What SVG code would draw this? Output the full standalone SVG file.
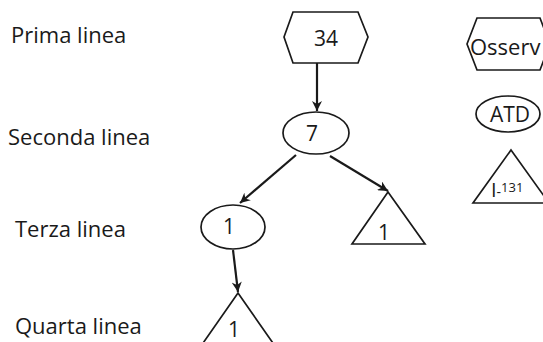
<svg xmlns="http://www.w3.org/2000/svg" width="543" height="342" viewBox="0 0 543 342">
  <style>
    .shape { fill: #ffffff; stroke: #1a1a1a; stroke-width: 1.7; }
    .edge { fill: none; stroke: #1a1a1a; stroke-width: 2.2; marker-end: url(#arrow); }
    .lbl { font-family: "Open Sans", "Liberation Sans", sans-serif; font-size: 22px; fill: #1a1a1a; }
    .num { font-family: "Open Sans", "Liberation Sans", sans-serif; font-size: 21px; fill: #1a1a1a; text-anchor: middle; }
  </style>
  <defs>
    <marker id="arrow" viewBox="0 0 10 10" refX="10" refY="5" markerWidth="11" markerHeight="10" markerUnits="userSpaceOnUse" orient="auto">
      <path d="M0,0 L10,5 L0,10 L3,5 Z" fill="#1a1a1a"/>
    </marker>
  </defs>
  <rect width="543" height="342" fill="#ffffff"/>

  <!-- row labels -->
  <g id="row-labels">
    <text class="lbl" x="11" y="43">Prima linea</text>
    <text class="lbl" x="8" y="145">Seconda linea</text>
    <text class="lbl" x="15" y="237">Terza linea</text>
    <text class="lbl" x="15" y="334">Quarta linea</text>
  </g>

  <!-- connectors -->
  <g id="connectors">
    <line class="edge" x1="317" y1="63" x2="317" y2="111"/>
    <line class="edge" x1="296" y1="155" x2="240" y2="203"/>
    <line class="edge" x1="330" y1="156" x2="388" y2="191"/>
    <line class="edge" x1="233" y1="250" x2="238" y2="292"/>
  </g>

  <!-- tree nodes -->
  <g id="node-34">
    <polygon class="shape" points="284,37 293,12 358,12 368,37 358,63 293,63"/>
    <text class="num" x="326" y="46">34</text>
  </g>
  <g id="node-7">
    <ellipse class="shape" cx="316" cy="133" rx="33" ry="21"/>
    <text class="num" x="312" y="141">7</text>
  </g>
  <g id="node-1a">
    <ellipse class="shape" cx="233" cy="227" rx="32" ry="22"/>
    <text class="num" x="229" y="234">1</text>
  </g>
  <g id="node-1b">
    <polygon class="shape" points="388,192 425,244 352,244"/>
    <text class="num" x="384" y="240">1</text>
  </g>
  <g id="node-1c">
    <polygon class="shape" points="238,293 275,346 201,346"/>
    <text class="num" x="234" y="337">1</text>
  </g>

  <!-- legend -->
  <g id="legend-osserv">
    <polygon class="shape" points="467,44 477,18 540,18 550,44 540,70 477,70"/>
    <text class="lbl" x="470" y="55" style="font-size:22px">Osserv</text>
  </g>
  <g id="legend-atd">
    <ellipse class="shape" cx="508" cy="114" rx="32" ry="18"/>
    <text class="num" x="510" y="122">ATD</text>
  </g>
  <g id="legend-i131">
    <polygon class="shape" points="511,150 549,203 473,203"/>
    <text class="lbl" x="491" y="197" style="font-size:20px">I<tspan font-size="14">-</tspan><tspan font-size="13" dy="-5">131</tspan></text>
  </g>
</svg>
